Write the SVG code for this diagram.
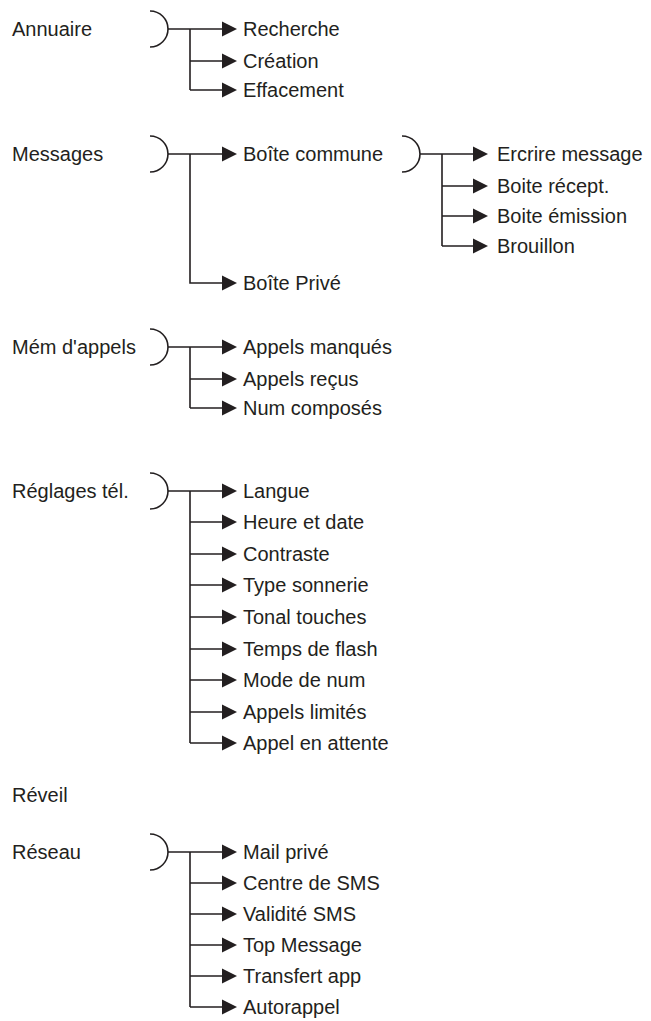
<svg xmlns="http://www.w3.org/2000/svg" width="651" height="1021" viewBox="0 0 651 1021">
<defs>
<style>
.t{font-family:"Liberation Sans",Arial,sans-serif;font-size:20px;fill:#231f20}
.c{fill:none;stroke:#231f20;stroke-width:1.6}
.a{fill:#231f20}
</style>
</defs>
<rect width="651" height="1021" fill="#fff"/>

<g id="annuaire">
<text class="t" x="12" y="36">Annuaire</text>
<path class="c" d="M150,11 A18,18 0 0 1 150,47"/>
<text class="t" x="243" y="36">Recherche</text>
<text class="t" x="243" y="68">Création</text>
<text class="t" x="243" y="97">Effacement</text>
</g>

<g id="messages">
<text class="t" x="12" y="161">Messages</text>
<path class="c" d="M150,136 A18,18 0 0 1 150,172"/>
<text class="t" x="243" y="161">Boîte commune</text>
<text class="t" x="243" y="290">Boîte Privé</text>
</g>

<g id="boite-commune">
<path class="c" d="M402,136 A18,18 0 0 1 402,172"/>
<text class="t" x="497" y="161">Ercrire message</text>
<text class="t" x="497" y="193">Boite récept.</text>
<text class="t" x="497" y="223">Boite émission</text>
<text class="t" x="497" y="253">Brouillon</text>
</g>

<g id="mem-appels">
<text class="t" x="12" y="354">Mém d'appels</text>
<path class="c" d="M150,329 A18,18 0 0 1 150,365"/>
<text class="t" x="243" y="354">Appels manqués</text>
<text class="t" x="243" y="386">Appels reçus</text>
<text class="t" x="243" y="415">Num composés</text>
</g>

<g id="reglages">
<text class="t" x="12" y="498">Réglages tél.</text>
<path class="c" d="M150,473 A18,18 0 0 1 150,509"/>
<text class="t" x="243" y="498">Langue</text>
<text class="t" x="243" y="529">Heure et date</text>
<text class="t" x="243" y="561">Contraste</text>
<text class="t" x="243" y="592">Type sonnerie</text>
<text class="t" x="243" y="624">Tonal touches</text>
<text class="t" x="243" y="656">Temps de flash</text>
<text class="t" x="243" y="687">Mode de num</text>
<text class="t" x="243" y="719">Appels limités</text>
<text class="t" x="243" y="750">Appel en attente</text>
</g>

<g id="reveil">
<text class="t" x="12" y="802">Réveil</text>
</g>

<g id="reseau">
<text class="t" x="12" y="859">Réseau</text>
<path class="c" d="M150,834 A18,18 0 0 1 150,870"/>
<text class="t" x="243" y="859">Mail privé</text>
<text class="t" x="243" y="890">Centre de SMS</text>
<text class="t" x="243" y="921">Validité SMS</text>
<text class="t" x="243" y="952">Top Message</text>
<text class="t" x="243" y="983">Transfert app</text>
<text class="t" x="243" y="1014">Autorappel</text>
</g>

<g id="connectors">
<path class="c" d="M168,29 H224 M190,29 V90 M190,61 H224 M190,90 H224"/>
<path class="c" d="M168,154 H224 M190,154 V283 H224"/>
<path class="c" d="M420,154 H475 M442,154 V246 M442,186 H475 M442,216 H475 M442,246 H475"/>
<path class="c" d="M168,347 H224 M190,347 V408 M190,379 H224 M190,408 H224"/>
<path class="c" d="M168,491 H224 M190,491 V743 M190,522 H224 M190,554 H224 M190,585 H224 M190,617 H224 M190,649 H224 M190,680 H224 M190,712 H224 M190,743 H224"/>
<path class="c" d="M168,852 H224 M190,852 V1007 M190,883 H224 M190,914 H224 M190,945 H224 M190,976 H224 M190,1007 H224"/>
<g class="a">
<path d="M222,21.5 L237,29 L222,36.5Z"/><path d="M222,53.5 L237,61 L222,68.5Z"/><path d="M222,82.5 L237,90 L222,97.5Z"/>
<path d="M222,146.5 L237,154 L222,161.5Z"/><path d="M222,275.5 L237,283 L222,290.5Z"/>
<path d="M473,146.5 L488,154 L473,161.5Z"/><path d="M473,178.5 L488,186 L473,193.5Z"/><path d="M473,208.5 L488,216 L473,223.5Z"/><path d="M473,238.5 L488,246 L473,253.5Z"/>
<path d="M222,339.5 L237,347 L222,354.5Z"/><path d="M222,371.5 L237,379 L222,386.5Z"/><path d="M222,400.5 L237,408 L222,415.5Z"/>
<path d="M222,483.5 L237,491 L222,498.5Z"/><path d="M222,514.5 L237,522 L222,529.5Z"/><path d="M222,546.5 L237,554 L222,561.5Z"/><path d="M222,577.5 L237,585 L222,592.5Z"/><path d="M222,609.5 L237,617 L222,624.5Z"/><path d="M222,641.5 L237,649 L222,656.5Z"/><path d="M222,672.5 L237,680 L222,687.5Z"/><path d="M222,704.5 L237,712 L222,719.5Z"/><path d="M222,735.5 L237,743 L222,750.5Z"/>
<path d="M222,844.5 L237,852 L222,859.5Z"/><path d="M222,875.5 L237,883 L222,890.5Z"/><path d="M222,906.5 L237,914 L222,921.5Z"/><path d="M222,937.5 L237,945 L222,952.5Z"/><path d="M222,968.5 L237,976 L222,983.5Z"/><path d="M222,999.5 L237,1007 L222,1014.5Z"/>
</g>
</g>
</svg>
